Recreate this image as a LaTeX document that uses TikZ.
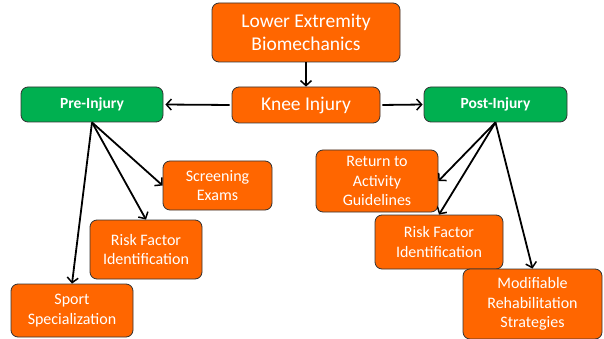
\documentclass[tikz,border=0pt]{standalone}
\usepackage{fontspec}
\setmainfont{Carlito}
\usetikzlibrary{arrows.meta}
\definecolor{org}{HTML}{FF6600}
\definecolor{grn}{HTML}{00B050}
\begin{document}
\begin{tikzpicture}[x=1pt,y=-1pt,
 box/.style={draw=black!80, line width=0.8pt, rounded corners=7pt, fill=org, text=white, align=center, inner sep=0pt, font=\fontsize{16}{19.2}\selectfont},
 gbox/.style={box, fill=grn, font=\bfseries\fontsize{15.5}{18}\selectfont},
 big/.style={font=\fontsize{19.5}{23}\selectfont},
 arr/.style={-{Straight Barb[length=5pt,width=11pt,line width=1.5pt]}, line width=1.8pt}]
\useasboundingbox (0,0) rectangle (604,339);
\node[box,big,minimum width=188pt,minimum height=59pt] (leb) at (306,32.5) {Lower Extremity\\Biomechanics};
\node[box,big,minimum width=148pt,minimum height=36pt] (knee) at (306,105) {Knee Injury};
\node[gbox,minimum width=142pt,minimum height=35pt] (pre) at (92,104.5) {Pre-Injury};
\node[gbox,minimum width=143pt,minimum height=35pt] (post) at (495.5,104.5) {Post-Injury};
\node[box,minimum width=109pt,minimum height=49pt] (scr) at (217.5,185.5) {Screening\\Exams};
\node[box,minimum width=112pt,minimum height=59pt] (rfl) at (146,249.5) {Risk Factor\\Identification};
\node[box,minimum width=122pt,minimum height=53pt] (sport) at (72,310.5) {Sport\\Specialization};
\node[box,minimum width=122pt,minimum height=62pt] (rta) at (377,181) {Return to\\Activity\\Guidelines};
\node[box,minimum width=128pt,minimum height=54pt] (rfr) at (439,242) {Risk Factor\\Identification};
\node[box,minimum width=139pt,minimum height=70pt] (mod) at (532.5,304) {Modifiable\\Rehabilitation\\Strategies};
\draw[arr] (leb.south) -- (knee.north);
\draw[arr,shorten <=2pt,shorten >=2pt] (knee.west) -- (pre.east);
\draw[arr,shorten <=2pt,shorten >=1pt] (knee.east) -- (post.west);
\draw[arr] (pre.south) -- (scr.west);
\draw[arr] (pre.south) -- (rfl.north);
\draw[arr] (pre.south) -- (sport.north);
\draw[arr] (post.south) -- (rta.east);
\draw[arr] (post.south) -- (rfr.north);
\draw[arr] (post.south) -- (mod.north);
\end{tikzpicture}
\end{document}
